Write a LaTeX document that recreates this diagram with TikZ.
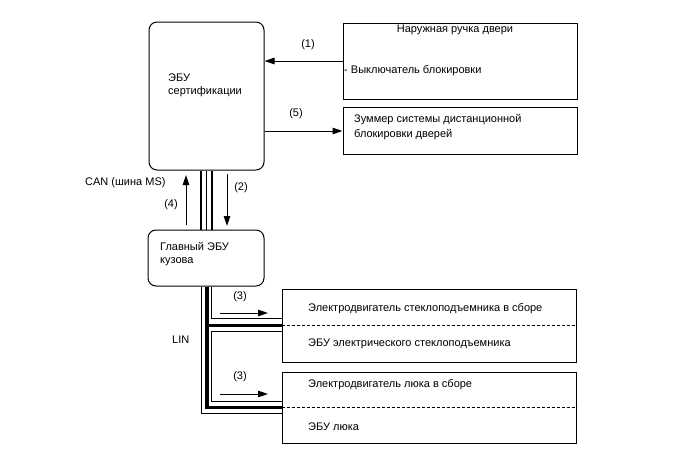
\documentclass[tikz,border=0pt]{standalone}
\usepackage{fontspec}
\setmainfont{Liberation Sans}
\usetikzlibrary{arrows.meta}
\begin{document}
\begin{tikzpicture}[x=1pt,y=-1pt,
  every node/.style={font=\fontsize{11}{13}\selectfont},
  box/.style={draw,line width=1pt,inner sep=0pt,minimum width=#1},
  ecu/.style={box=#1,rounded corners=8pt},
  txt/.style={inner sep=0pt,anchor=west,align=left},
  sig/.style={line width=1pt,-{Triangle[length=10pt,width=6.5pt]}},
  thin/.style={line width=1pt},
  thick/.style={line width=3.6pt},
  sep/.style={dashed,line width=0.7pt,dash pattern=on 3pt off 2pt}]
\useasboundingbox (0,0) rectangle (688,463);
% boxes
\node[ecu=115pt,minimum height=148pt] (cert) at (206.5,96) {};
\node[ecu=116pt,minimum height=56pt] (body) at (206,258) {};
\node[box=234pt,minimum height=76pt] (handle) at (460,61) {};
\node[box=234pt,minimum height=47pt] (buzz) at (460,130.5) {};
\node[box=294pt,minimum height=73pt] (win) at (429,325.5) {};
\node[box=294pt,minimum height=71pt] (roof) at (429,407.5) {};
% texts
\node[txt] (t1) at (168,78) {ЭБУ};
\node[txt] (t2) at (168,92) {сертификации};
\node[inner sep=0pt] (t3) at (455,30) {Наружная ручка двери};
\node[txt] (t4) at (344,71) {- Выключатель блокировки};
\node[txt] (t5) at (354,120) {Зуммер системы дистанционной};
\node[txt] (t6) at (354,135) {блокировки дверей};
\node[txt] (t7) at (160,246) {Главный ЭБУ};
\node[txt] (t8) at (160,262) {кузова};
\node[txt] (t9) at (308,309) {Электродвигатель стеклоподъемника в сборе};
\node[txt] (t10) at (308,344) {ЭБУ электрического стеклоподъемника};
\node[txt] (t11) at (308,385) {Электродвигатель люка в сборе};
\node[txt] (t12) at (308,427) {ЭБУ люка};
\node[txt] (can) at (85,183) {CAN (шина MS)};
\node[txt] (lin) at (172,340) {LIN};
\node (l1) at (308,45) {(1)};
\node (l5) at (296,114) {(5)};
\node (l4) at (171,205) {(4)};
\node (l2) at (241,188) {(2)};
\node (l3a) at (240,297) {(3)};
\node (l3b) at (240,377) {(3)};
% dashed separators
\draw[sep] (win.west |- 0,325.5) -- (win.east |- 0,325.5);
\draw[sep] (roof.west |- 0,407.5) -- (roof.east |- 0,407.5);
% signal arrows
\draw[sig] (handle.west |- 0,61) -- (cert.east |- 0,61);
\draw[sig] (cert.east |- 0,131) -- (buzz.west |- 0,131);
\coordinate (a4s) at (186,225); \coordinate (a4e) at (186,175);
\coordinate (a2s) at (227,174); \coordinate (a2e) at (227,226);
\draw[sig] (a4s) -- (a4e);
\draw[sig] (a2s) -- (a2e);
\coordinate (a3s) at (220,313); \coordinate (a3e) at (268,313);
\coordinate (a3t) at (220,394); \coordinate (a3u) at (268,394);
\draw[sig] (a3s) -- (a3e);
\draw[sig] (a3t) -- (a3u);
% CAN bus
\draw[line width=1.3pt] (cert.south -| 201,0) -- (body.north -| 201,0);
\draw[line width=0.9pt] (cert.south -| 206.5,0) -- (body.north -| 206.5,0);
\draw[line width=1.3pt] (cert.south -| 212,0) -- (body.north -| 212,0);
% LIN bus
\draw[thin] (body.south -| 201.5,0) -- (201.5,413.5) -- (roof.west |- 0,413.5);
\draw[thick] (body.south -| 206.7,0) -- (206.7,407.5) -- (roof.west |- 0,407.5);
\draw[thick] (206.7,325.5) -- (win.west |- 0,325.5);
\draw[thin] (body.south -| 211.5,0) -- (211.5,318.5) -- (win.west |- 0,318.5);
\draw[thin] (win.west |- 0,331) -- (211.5,331) -- (211.5,401.5) -- (roof.west |- 0,401.5);
\end{tikzpicture}
\end{document}
